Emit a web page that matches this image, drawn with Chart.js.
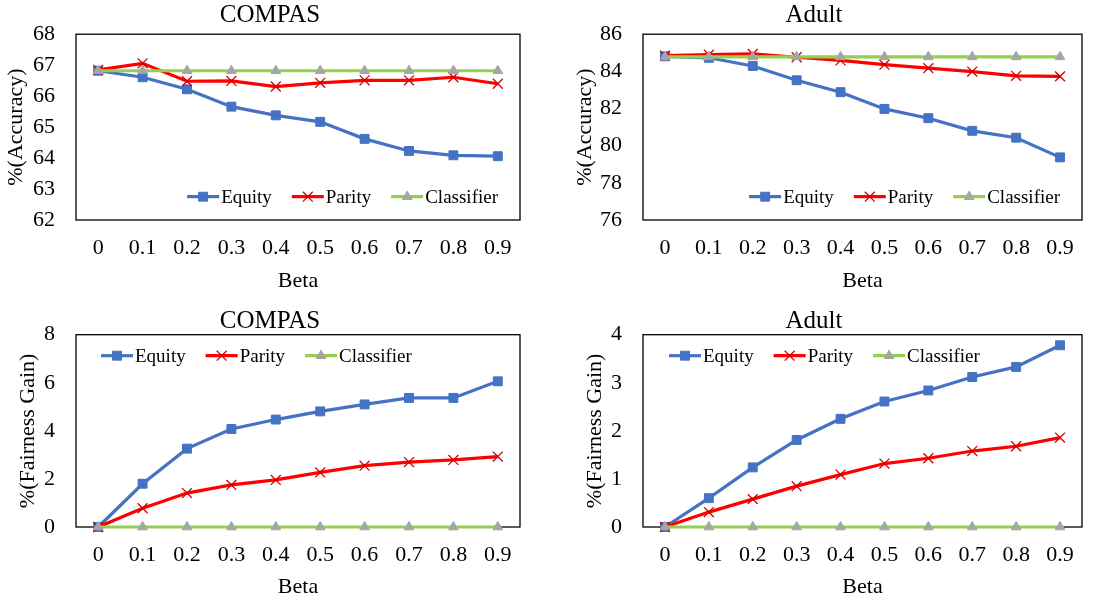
<!DOCTYPE html>
<html>
<head>
<meta charset="utf-8">
<script src="https://cdn.jsdelivr.net/npm/chart.js@4.4.1/dist/chart.umd.min.js"></script>
<style>
  html, body { margin: 0; padding: 0; background: #fff; }
  #wrap { position: relative; width: 1105px; height: 603px; overflow: hidden; background: #fff; }
  canvas { position: absolute; }
</style>
</head>
<body>
<div id="wrap">
  <canvas id="accCompas" width="552" height="300" style="left:0;top:0"></canvas>
  <canvas id="accAdult" width="553" height="300" style="left:552px;top:0"></canvas>
  <canvas id="gainCompas" width="552" height="303" style="left:0;top:300px"></canvas>
  <canvas id="gainAdult" width="553" height="303" style="left:552px;top:300px"></canvas>
</div>
<script>
const betas = ['0', '0.1', '0.2', '0.3', '0.4', '0.5', '0.6', '0.7', '0.8', '0.9'];

const compasAccEquity = [66.82, 66.61, 66.22, 65.66, 65.38, 65.17, 64.62, 64.23, 64.09, 64.06];
const compasAccParity = [66.85, 67.06, 66.48, 66.49, 66.31, 66.43, 66.51, 66.51, 66.61, 66.40];
const compasAccClassifier = [66.82, 66.82, 66.82, 66.82, 66.82, 66.82, 66.82, 66.82, 66.82, 66.82];

const adultAccEquity = [84.81, 84.73, 84.29, 83.52, 82.88, 81.98, 81.48, 80.80, 80.43, 79.37];
const adultAccParity = [84.85, 84.90, 84.94, 84.76, 84.59, 84.36, 84.17, 83.99, 83.76, 83.73];
const adultAccClassifier = [84.78, 84.78, 84.78, 84.78, 84.78, 84.78, 84.78, 84.78, 84.78, 84.78];

const compasGainEquity = [0, 1.80, 3.26, 4.08, 4.47, 4.81, 5.10, 5.37, 5.37, 6.06];
const compasGainParity = [0, 0.78, 1.41, 1.75, 1.96, 2.27, 2.55, 2.70, 2.79, 2.93];
const compasGainClassifier = [0, 0, 0, 0, 0, 0, 0, 0, 0, 0];

const adultGainEquity = [0, 0.60, 1.24, 1.81, 2.25, 2.61, 2.84, 3.12, 3.33, 3.78];
const adultGainParity = [0, 0.31, 0.58, 0.85, 1.09, 1.32, 1.43, 1.58, 1.68, 1.86];
const adultGainClassifier = [0, 0, 0, 0, 0, 0, 0, 0, 0, 0];

const SERIF = '"Liberation Serif", "Times New Roman", serif';
Chart.defaults.font.family = SERIF;
Chart.defaults.color = '#000';

// black box round the plot area, drawn under the lines
const frame = {
  id: 'frame',
  beforeDatasetsDraw(chart) {
    const { ctx, chartArea: a } = chart;
    ctx.save();
    ctx.strokeStyle = '#000';
    ctx.lineWidth = 1.3;
    ctx.strokeRect(a.left, a.top, a.right - a.left, a.bottom - a.top);
    ctx.restore();
  }
};

// panel title at a fixed spot
const panelTitle = {
  id: 'panelTitle',
  afterDraw(chart, args, opts) {
    const ctx = chart.ctx;
    ctx.save();
    ctx.font = '25px ' + SERIF;
    ctx.fillStyle = '#000';
    ctx.textAlign = 'center';
    ctx.textBaseline = 'middle';
    ctx.fillText(opts.text, opts.x, opts.y);
    ctx.restore();
  }
};

// Excel style legend: line with marker, then label, inside the plot
const lineLegend = {
  id: 'lineLegend',
  afterDraw(chart, args, opts) {
    const { ctx, chartArea } = chart;
    ctx.save();
    ctx.font = '19px ' + SERIF;
    const lineLen = 32, textGap = 2, itemGap = 20;
    const items = chart.data.datasets.map(ds => ({ ds, w: ctx.measureText(ds.label).width }));
    const total = items.reduce((s, it) => s + lineLen + textGap + it.w, 0) + itemGap * (items.length - 1);
    let x = opts.align === 'end' ? chartArea.right - opts.dx - total : chartArea.left + opts.dx;
    const y = opts.fromBottom ? chartArea.bottom - opts.dy : chartArea.top + opts.dy;
    items.forEach(({ ds, w }) => {
      ctx.strokeStyle = ds.borderColor;
      ctx.lineWidth = ds.borderWidth;
      ctx.beginPath();
      ctx.moveTo(x, y);
      ctx.lineTo(x + lineLen, y);
      ctx.stroke();
      ctx.fillStyle = ds.pointBackgroundColor;
      ctx.strokeStyle = ds.pointBorderColor;
      ctx.lineWidth = ds.pointBorderWidth;
      Chart.helpers.drawPoint(ctx, {
        pointStyle: ds.pointStyle, radius: ds.pointRadius, rotation: 0, borderWidth: ds.pointBorderWidth
      }, x + lineLen / 2, y);
      ctx.fillStyle = '#000';
      ctx.textAlign = 'left';
      ctx.textBaseline = 'middle';
      ctx.fillText(ds.label, x + lineLen + textGap, y + 1);
      x += lineLen + textGap + w + itemGap;
    });
    ctx.restore();
  }
};

function series(equity, parity, classifier) {
  return [
    {
      label: 'Equity', data: equity, order: 2,
      borderColor: '#4472C4', borderWidth: 3.2,
      pointStyle: 'rect', pointRadius: 6.3,
      pointBackgroundColor: '#4472C4', pointBorderColor: '#4472C4', pointBorderWidth: 1
    },
    {
      label: 'Parity', data: parity, order: 1,
      borderColor: '#FF0000', borderWidth: 3.2,
      pointStyle: 'crossRot', pointRadius: 7,
      pointBackgroundColor: '#FF0000', pointBorderColor: '#D00000', pointBorderWidth: 1.3
    },
    {
      label: 'Classifier', data: classifier, order: 0,
      borderColor: '#92D050', borderWidth: 3.2,
      pointStyle: 'triangle', pointRadius: 5.6,
      pointBackgroundColor: '#A5A5A5', pointBorderColor: '#A5A5A5', pointBorderWidth: 1
    }
  ];
}

function makePanel(id, p) {
  new Chart(document.getElementById(id), {
    type: 'line',
    data: { labels: betas, datasets: series(p.equity, p.parity, p.classifier) },
    plugins: [frame, panelTitle, lineLegend],
    options: {
      responsive: false,
      animation: false,
      clip: false,
      elements: { line: { tension: 0 } },
      layout: { padding: { top: p.padTop, right: p.padRight, left: 0, bottom: 0 } },
      scales: {
        x: {
          offset: true,
          grid: { display: false, drawTicks: false },
          border: { display: false },
          ticks: { font: { size: 22 }, padding: 15, maxRotation: 0 },
          title: { display: true, text: 'Beta', font: { size: 22 }, padding: { top: 0, bottom: p.xTitlePad } },
          afterFit: s => { s.height = p.xHeight; }
        },
        y: {
          min: p.yMin, max: p.yMax,
          grid: { display: false, drawTicks: false },
          border: { display: false },
          ticks: { stepSize: p.yStep, font: { size: 22 }, padding: 21 },
          title: { display: true, text: p.yTitle, font: { size: 22 }, padding: { top: p.yTitlePad, bottom: 0 } },
          afterFit: s => { s.width = p.yWidth; }
        }
      },
      plugins: {
        legend: { display: false },
        tooltip: { enabled: false },
        panelTitle: { text: p.title, x: p.titleX, y: p.titleY },
        lineLegend: p.legend
      }
    }
  });
}

makePanel('accCompas', {
  title: 'COMPAS', titleX: 270, titleY: 15,
  yTitle: '%(Accuracy)', yMin: 62, yMax: 68, yStep: 1,
  equity: compasAccEquity, parity: compasAccParity, classifier: compasAccClassifier,
  padTop: 29, padRight: 32, yWidth: 76, xHeight: 80, yTitlePad: 3.5, xTitlePad: 6,
  legend: { align: 'end', dx: 22, fromBottom: true, dy: 23.3 }
});
makePanel('accAdult', {
  title: 'Adult', titleX: 262, titleY: 15,
  yTitle: '%(Accuracy)', yMin: 76, yMax: 86, yStep: 2,
  equity: adultAccEquity, parity: adultAccParity, classifier: adultAccClassifier,
  padTop: 29, padRight: 23, yWidth: 91, xHeight: 80, yTitlePad: 19.8, xTitlePad: 6,
  legend: { align: 'end', dx: 22, fromBottom: true, dy: 23.3 }
});
makePanel('gainCompas', {
  title: 'COMPAS', titleX: 270, titleY: 21.5,
  yTitle: '%(Fairness Gain)', yMin: 0, yMax: 8, yStep: 2,
  equity: compasGainEquity, parity: compasGainParity, classifier: compasGainClassifier,
  padTop: 34.7, padRight: 32, yWidth: 76, xHeight: 76, yTitlePad: 15, xTitlePad: 2.5,
  legend: { align: 'start', dx: 25, fromBottom: false, dy: 21 }
});
makePanel('gainAdult', {
  title: 'Adult', titleX: 262, titleY: 21.5,
  yTitle: '%(Fairness Gain)', yMin: 0, yMax: 4, yStep: 1,
  equity: adultGainEquity, parity: adultGainParity, classifier: adultGainClassifier,
  padTop: 34.7, padRight: 23, yWidth: 91, xHeight: 76, yTitlePad: 29.8, xTitlePad: 2.5,
  legend: { align: 'start', dx: 26, fromBottom: false, dy: 21 }
});
</script>
</body>
</html>
